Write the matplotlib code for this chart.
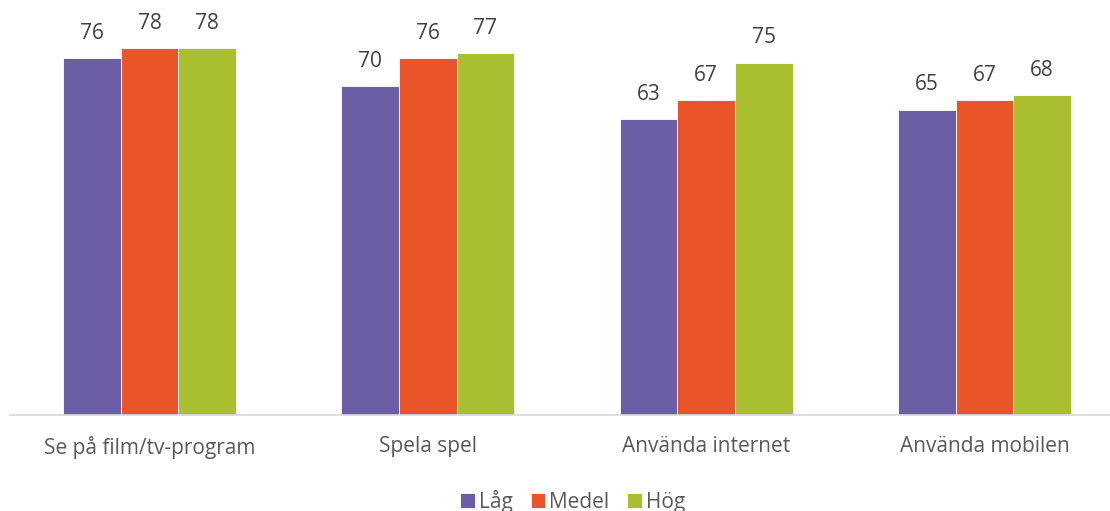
import numpy as np
import matplotlib.pyplot as plt

plt.rcParams['font.family'] = ['Open Sans', 'DejaVu Sans']

categories = ['Se på film/tv-program', 'Spela spel', 'Använda internet', 'Använda mobilen']
series = ['Låg', 'Medel', 'Hög']
lag = [76, 70, 63, 65]
medel = [78, 76, 67, 67]
hog = [78, 77, 75, 68]
colors = ['#6B5EA5', '#E95428', '#A9BF2F']

fig = plt.figure(figsize=(11.1, 5.11), dpi=100)
ax = fig.add_axes([10 / 1110, 96 / 511, 1100 / 1110, 415 / 511])

x = np.arange(len(categories))
w = 0.207
for i, (vals, name) in enumerate(zip([lag, medel, hog], series)):
    pos = x + (i - 1) * w
    ax.bar(pos, vals, width=w, color=colors[i], label=name,
           edgecolor='white', linewidth=0.6)
    for xp, v in zip(pos, vals):
        ax.text(xp, v + 3.0, str(v), ha='center', va='bottom',
                fontsize=15, color='#404040')

ax.set_ylim(0, 88.3)
ax.set_xlim((10 - 149.5) / 278.3, (1110 - 149.5) / 278.3)
ax.set_xticks(x)
ax.set_xticklabels(categories, fontsize=15, color='#595959')
ax.tick_params(axis='x', length=0, pad=15)
ax.set_yticks([])
for s in ['top', 'right', 'left']:
    ax.spines[s].set_visible(False)
ax.spines['bottom'].set_color('#D9D9D9')
ax.spines['bottom'].set_linewidth(1.2)

fig.legend(loc='lower center', bbox_to_anchor=(0.516, -0.04), ncol=3, frameon=False,
           fontsize=15, labelcolor='#595959', handlelength=0.7, handleheight=0.7,
           handletextpad=0.2, columnspacing=0.85)

fig.savefig('out.png', dpi=100)
